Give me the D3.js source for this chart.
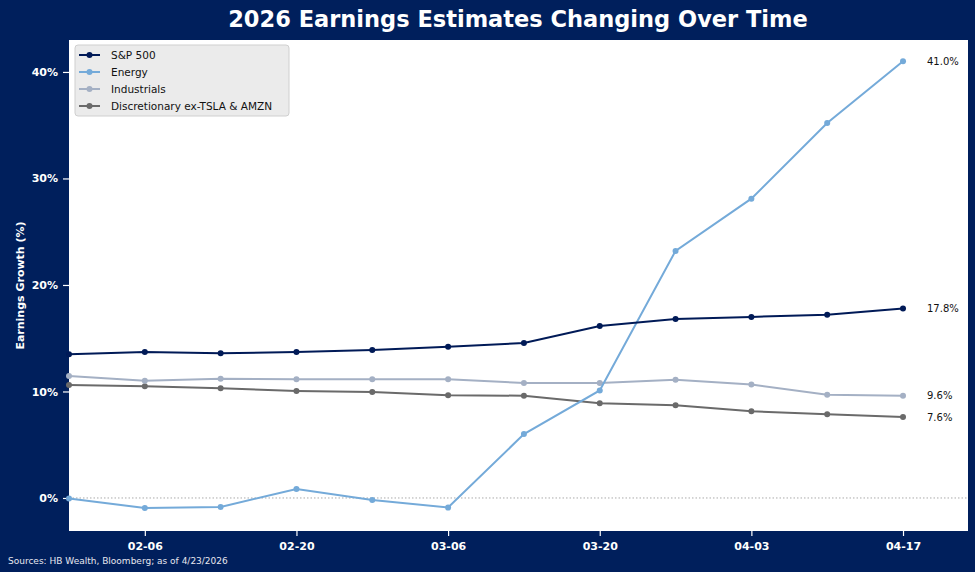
<!DOCTYPE html>
<html>
<head>
<meta charset="utf-8">
<script src="https://cdn.jsdelivr.net/npm/d3@7"></script>
<style>
  body { margin: 0; background: #001f5c; }
  svg { display: block; font-family: "DejaVu Sans", sans-serif; }
</style>
</head>
<body>
<div id="canvas"></div>
<script>
// weekly estimate dates (2026)
var dates = ['2026-01-30','2026-02-06','2026-02-13','2026-02-20','2026-02-27','2026-03-06',
             '2026-03-13','2026-03-20','2026-03-27','2026-04-03','2026-04-10','2026-04-17'];

var spx    = [13.5, 13.7, 13.6, 13.7, 13.9, 14.2, 14.55, 16.15, 16.8, 17.0, 17.2, 17.8];
var energy = [-0.05, -0.95, -0.85, 0.85, -0.2, -0.9, 6.0, 10.1, 23.2, 28.1, 35.2, 41.0];
var indus  = [11.45, 11.0, 11.2, 11.15, 11.15, 11.15, 10.8, 10.8, 11.1, 10.65, 9.7, 9.6];
var discr  = [10.6, 10.5, 10.3, 10.05, 9.95, 9.65, 9.6, 8.9, 8.7, 8.15, 7.85, 7.6];

var seriesNames = ['S&P 500', 'Energy', 'Industrials', 'Discretionary ex-TSLA & AMZN'];
var seriesColors = ['#001a57', '#74aad9', '#a4b0c4', '#6a6a6a'];
var yTicks = [0, 10, 20, 30, 40];
var xTicks = ['2026-02-06','2026-02-20','2026-03-06','2026-03-20','2026-04-03','2026-04-17'];

var W = 975, H = 572;
var m = {t:40, r:7, b:41, l:69},
    w = W - m.l - m.r,
    h = H - m.t - m.b;

var parse = d3.timeParse('%Y-%m-%d');
var fmt = d3.timeFormat('%m-%d');

var svg = d3.select('#canvas').append('svg')
    .attr('width', W).attr('height', H);

svg.append('rect').attr('width', W).attr('height', H).attr('fill', '#001f5c');

svg.append('text')
    .attr('x', 518).attr('y', 27)
    .attr('text-anchor', 'middle')
    .attr('fill', '#fff')
    .style('font-size', '22.5px').style('font-weight', 'bold')
    .text('2026 Earnings Estimates Changing Over Time');

var plot = svg.append('g').attr('transform', 'translate(' + m.l + ',' + m.t + ')');

plot.append('rect').attr('width', w).attr('height', h).attr('fill', '#fff');

var x = d3.scaleTime()
    .domain([parse('2026-01-30'), parse('2026-04-23')])
    .range([0, w]);
var y = d3.scaleLinear().domain([-3.1, 43.0]).range([h, 0]);

// zero reference
plot.append('line')
    .attr('x1', 0).attr('x2', w)
    .attr('y1', y(0)).attr('y2', y(0))
    .attr('stroke', '#aaa').attr('stroke-width', 1)
    .attr('stroke-dasharray', '1.5,2');

var xAxis = plot.append('g')
    .attr('transform', 'translate(0,' + h + ')')
    .call(d3.axisBottom(x).tickValues(xTicks.map(parse)).tickFormat(fmt).tickSize(5).tickSizeOuter(0).tickPadding(6));
var yAxis = plot.append('g')
    .call(d3.axisLeft(y).tickValues(yTicks).tickFormat(function(d){return d + '%';}).tickSize(6).tickSizeOuter(0).tickPadding(5));

[xAxis, yAxis].forEach(function(a){
    a.select('.domain').remove();
    a.selectAll('line').attr('stroke', '#fff').attr('stroke-width', 1.2);
    a.selectAll('text').attr('fill', '#fff')
        .style('font-size', '11px').style('font-weight', 'bold')
        .style('font-family', '"DejaVu Sans", sans-serif');
});

svg.append('text')
    .attr('transform', 'translate(24,' + (m.t + h / 2) + ') rotate(-90)')
    .attr('text-anchor', 'middle')
    .attr('fill', '#fff')
    .style('font-size', '11px').style('font-weight', 'bold')
    .text('Earnings Growth (%)');

var allSeries = [spx, energy, indus, discr];
var data = allSeries.map(function(vals, i){
    return {
        name: seriesNames[i],
        color: seriesColors[i],
        values: vals.map(function(v, j){ return {date: parse(dates[j]), v: v}; })
    };
});

var line = d3.line().x(function(d){return x(d.date);}).y(function(d){return y(d.v);});

// draw back to front so S&P sits on top
var order = [3, 2, 1, 0];
order.forEach(function(i){
    var s = data[i];
    var g = plot.append('g');
    g.append('path').datum(s.values)
        .attr('d', line).attr('fill', 'none')
        .attr('stroke', s.color).attr('stroke-width', 2);
    g.selectAll('circle').data(s.values).enter().append('circle')
        .attr('cx', function(d){return x(d.date);})
        .attr('cy', function(d){return y(d.v);})
        .attr('r', 3).attr('fill', s.color);
});

// end labels
data.forEach(function(s){
    var last = s.values[s.values.length - 1];
    plot.append('text')
        .attr('x', x(last.date) + 24)
        .attr('y', y(last.v))
        .attr('dy', '0.35em')
        .attr('fill', '#111')
        .style('font-size', '10px')
        .text(last.v.toFixed(1) + '%');
});

// legend
var lg = plot.append('g').attr('transform', 'translate(6,5)');
lg.append('rect')
    .attr('width', 214).attr('height', 71).attr('rx', 3)
    .attr('fill', '#ebebeb').attr('stroke', '#cfcfcf');
data.forEach(function(s, i){
    var row = lg.append('g').attr('transform', 'translate(0,' + (10 + i * 17) + ')');
    row.append('line').attr('x1', 4).attr('x2', 25)
        .attr('stroke', s.color).attr('stroke-width', 2);
    row.append('circle').attr('cx', 14.5).attr('r', 3).attr('fill', s.color);
    row.append('text').attr('x', 36).attr('dy', '0.35em')
        .attr('fill', '#111').style('font-size', '10.5px')
        .text(s.name);
});

svg.append('text')
    .attr('x', 8).attr('y', 564)
    .attr('fill', '#e6e6ee')
    .style('font-size', '9px')
    .text('Sources: HB Wealth, Bloomberg; as of 4/23/2026');
</script>
</body>
</html>
